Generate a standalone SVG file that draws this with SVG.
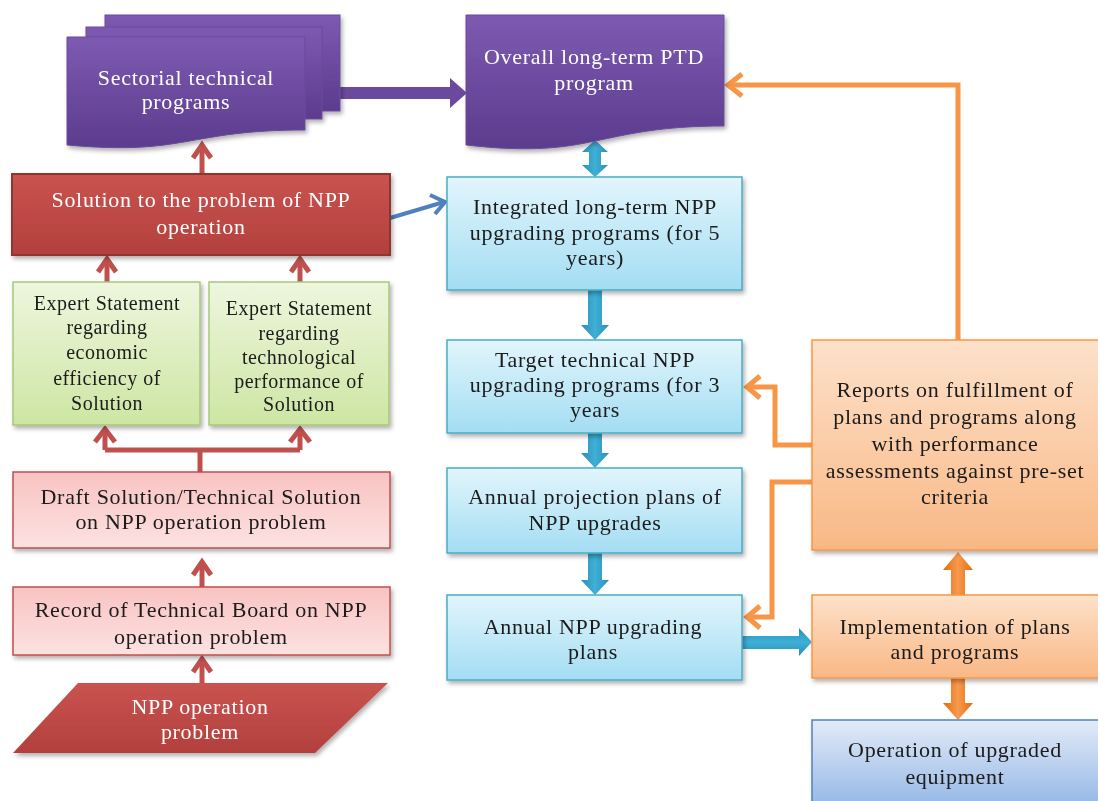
<svg xmlns="http://www.w3.org/2000/svg" width="1098" height="801" viewBox="0 0 1098 801">
<defs>
<linearGradient id="gPurple" x1="0" y1="0" x2="0" y2="1"><stop offset="0" stop-color="#7D5AB1"/><stop offset="1" stop-color="#5C3C8D"/></linearGradient>
<linearGradient id="gRed" x1="0" y1="0" x2="0" y2="1"><stop offset="0" stop-color="#C9534F"/><stop offset="1" stop-color="#B2403D"/></linearGradient>
<linearGradient id="gGreen" x1="0" y1="0" x2="0" y2="1"><stop offset="0" stop-color="#EEF6DE"/><stop offset="1" stop-color="#CDE6A3"/></linearGradient>
<linearGradient id="gPink" x1="0" y1="0" x2="0" y2="1"><stop offset="0" stop-color="#F8C3C2"/><stop offset="1" stop-color="#FCE2E1"/></linearGradient>
<linearGradient id="gCyan" x1="0" y1="0" x2="0" y2="1"><stop offset="0" stop-color="#E2F5FC"/><stop offset="1" stop-color="#A3DDF3"/></linearGradient>
<linearGradient id="gOrange" x1="0" y1="0" x2="0" y2="1"><stop offset="0" stop-color="#FDE1CA"/><stop offset="1" stop-color="#F9B885"/></linearGradient>
<linearGradient id="gBlue" x1="0" y1="0" x2="0" y2="1"><stop offset="0" stop-color="#E3EBF8"/><stop offset="1" stop-color="#92B5E5"/></linearGradient>
<linearGradient id="gTeal" x1="0" y1="0" x2="1" y2="0"><stop offset="0" stop-color="#2A8FB8"/><stop offset="0.5" stop-color="#3FB0D6"/><stop offset="1" stop-color="#2A8FB8"/></linearGradient>
<linearGradient id="gTealH" x1="0" y1="0" x2="0" y2="1"><stop offset="0" stop-color="#2A8FB8"/><stop offset="0.5" stop-color="#3FB0D6"/><stop offset="1" stop-color="#2A8FB8"/></linearGradient>
<linearGradient id="gOrArrow" x1="0" y1="0" x2="1" y2="0"><stop offset="0" stop-color="#E36C09"/><stop offset="0.5" stop-color="#F89A50"/><stop offset="1" stop-color="#E36C09"/></linearGradient>
<filter id="sh" x="-10%" y="-10%" width="125%" height="130%"><feDropShadow dx="2" dy="3" stdDeviation="2" flood-color="#000" flood-opacity="0.3"/></filter>
</defs>
<style>
.t{font-family:"Liberation Serif","Times New Roman",serif;font-size:22px;text-anchor:middle;letter-spacing:0.7px}
.s{font-size:20px;letter-spacing:0.5px}
.w{fill:#ffffff}
.d{fill:#1a1a1a}
.redl{fill:none;stroke:#C0504D;stroke-width:5;stroke-linejoin:miter}
.orl{fill:none;stroke:#F79646;stroke-width:5;stroke-linejoin:miter}
.bll{fill:none;stroke:#4F81BD;stroke-width:4}
</style>
<rect width="1098" height="801" fill="#ffffff"/>

<g id="connectors">
<polygon points="340,87 450,87 450,78 467,93 450,108 450,99 340,99" fill="#6B4A9E"/>
<path class="redl" d="M202 174 V146"/><polyline class="redl" points="193,158 202,145 211,158"/>
<path class="redl" d="M107 282 V260"/><polyline class="redl" points="98,272 107,259 116,272"/>
<path class="redl" d="M300 282 V260"/><polyline class="redl" points="291,272 300,259 309,272"/>
<path class="redl" d="M200 472 V450 M105 450 H300 M105 450 V430 M300 450 V430"/>
<polyline class="redl" points="95,442 105,429 115,442"/><polyline class="redl" points="290,442 300,429 310,442"/>
<path class="redl" d="M202 587 V563"/><polyline class="redl" points="193,575 202,562 211,575"/>
<path class="redl" d="M202 683 V660"/><polyline class="redl" points="193,672 202,659 211,672"/>
<path class="bll" d="M390 218 L444 202"/><polyline class="bll" points="430,195 445,202 435,214"/>
<polygon points="595,140 608,152 601,152 601,165 608,165 595,177 582,165 589,165 589,152 582,152" fill="url(#gTeal)"/>
<polygon points="588,290 602,290 602,325 609,325 595,340 581,325 588,325" fill="url(#gTeal)"/>
<polygon points="588,433 602,433 602,453 609,453 595,468 581,453 588,453" fill="url(#gTeal)"/>
<polygon points="588,553 602,553 602,580 609,580 595,595 581,580 588,580" fill="url(#gTeal)"/>
<polygon points="742,636 799,636 799,628 812,642 799,656 799,649 742,649" fill="url(#gTealH)"/>
<polygon points="951,595 965,595 965,570 973,570 958,552 943,570 951,570" fill="url(#gOrArrow)"/>
<polygon points="951,678 965,678 965,703 973,703 958,720 943,703 951,703" fill="url(#gOrArrow)"/>
<path class="orl" d="M958 340 V85 H730"/><polyline class="orl" points="742,74 728,85 742,96"/>
<path class="orl" d="M812 445 H775 V387 H750"/><polyline class="orl" points="760,376 747,387 760,398"/>
<path class="orl" d="M812 482 H772 V617 H750"/><polyline class="orl" points="760,606 747,617 760,628"/>
</g>

<g id="sectorial" filter="url(#sh)">
<rect x="105" y="15" width="235" height="96" fill="url(#gPurple)" stroke="#6A4A9C" stroke-width="1"/>
<rect x="86" y="27" width="236" height="92" fill="url(#gPurple)" stroke="#6A4A9C" stroke-width="1"/>
<path d="M67 37 H305 V130 C186 130 186 156 67 145 Z" fill="url(#gPurple)" stroke="#6A4A9C" stroke-width="1"/>
<text class="t w" x="186" y="85">Sectorial technical</text>
<text class="t w" x="186" y="109">programs</text>
</g>

<g id="overall" filter="url(#sh)">
<path d="M466 15 H724 V126 C595 126 595 160 466 145 Z" fill="url(#gPurple)" stroke="#6A4A9C" stroke-width="1"/>
<text class="t w" x="594" y="64">Overall long-term PTD</text>
<text class="t w" x="594" y="90">program</text>
</g>

<g id="solution" filter="url(#sh)">
<rect x="12" y="174" width="378" height="81" fill="url(#gRed)" stroke="#8E3533" stroke-width="2"/>
<text class="t w" x="201" y="207">Solution to the problem of NPP</text>
<text class="t w" x="201" y="234">operation</text>
</g>

<g id="expert-economic" filter="url(#sh)">
<rect x="13" y="282" width="187" height="143" fill="url(#gGreen)" stroke="#A8C77A" stroke-width="1.5"/>
<text class="t s d" x="107" y="310">Expert Statement</text>
<text class="t s d" x="107" y="334">regarding</text>
<text class="t s d" x="107" y="359">economic</text>
<text class="t s d" x="107" y="385">efficiency  of</text>
<text class="t s d" x="107" y="410">Solution</text>
</g>

<g id="expert-technological" filter="url(#sh)">
<rect x="209" y="282" width="180" height="143" fill="url(#gGreen)" stroke="#A8C77A" stroke-width="1.5"/>
<text class="t s d" x="299" y="315">Expert Statement</text>
<text class="t s d" x="299" y="340">regarding</text>
<text class="t s d" x="299" y="364">technological</text>
<text class="t s d" x="299" y="388">performance of</text>
<text class="t s d" x="299" y="411">Solution</text>
</g>

<g id="draft" filter="url(#sh)">
<rect x="13" y="472" width="377" height="76" fill="url(#gPink)" stroke="#C0504D" stroke-width="1.5"/>
<text class="t d" x="201" y="504">Draft Solution/Technical Solution</text>
<text class="t d" x="201" y="529">on NPP operation problem</text>
</g>

<g id="record" filter="url(#sh)">
<rect x="13" y="587" width="377" height="68" fill="url(#gPink)" stroke="#C0504D" stroke-width="1.5"/>
<text class="t d" x="201" y="617">Record of Technical Board on NPP</text>
<text class="t d" x="201" y="644">operation problem</text>
</g>

<g id="problem" filter="url(#sh)">
<polygon points="78,683 388,683 315,753 13,753" fill="url(#gRed)"/>
<text class="t w" x="200" y="714">NPP operation</text>
<text class="t w" x="200" y="739">problem</text>
</g>

<g id="integrated" filter="url(#sh)">
<rect x="447" y="177" width="295" height="113" fill="url(#gCyan)" stroke="#4BACC6" stroke-width="1.5"/>
<text class="t d" x="595" y="214">Integrated long-term NPP</text>
<text class="t d" x="595" y="240">upgrading programs (for 5</text>
<text class="t d" x="595" y="265">years)</text>
</g>

<g id="target" filter="url(#sh)">
<rect x="447" y="340" width="295" height="93" fill="url(#gCyan)" stroke="#4BACC6" stroke-width="1.5"/>
<text class="t d" x="595" y="367">Target technical  NPP</text>
<text class="t d" x="595" y="392">upgrading programs (for 3</text>
<text class="t d" x="595" y="417">years</text>
</g>

<g id="annual-projection" filter="url(#sh)">
<rect x="447" y="468" width="295" height="85" fill="url(#gCyan)" stroke="#4BACC6" stroke-width="1.5"/>
<text class="t d" x="595" y="504">Annual projection plans of</text>
<text class="t d" x="595" y="530">NPP upgrades</text>
</g>

<g id="annual-plans" filter="url(#sh)">
<rect x="447" y="595" width="295" height="85" fill="url(#gCyan)" stroke="#4BACC6" stroke-width="1.5"/>
<text class="t d" x="593" y="634">Annual NPP upgrading</text>
<text class="t d" x="593" y="659">plans</text>
</g>

<g id="reports" filter="url(#sh)">
<rect x="812" y="340" width="290" height="210" fill="url(#gOrange)" stroke="#F79646" stroke-width="1.5"/>
<text class="t d" x="955" y="397">Reports on fulfillment of</text>
<text class="t d" x="955" y="424">plans and programs along</text>
<text class="t d" x="955" y="451">with performance</text>
<text class="t d" x="955" y="478">assessments against pre-set</text>
<text class="t d" x="955" y="504">criteria</text>
</g>

<g id="implementation" filter="url(#sh)">
<rect x="812" y="595" width="290" height="83" fill="url(#gOrange)" stroke="#F79646" stroke-width="1.5"/>
<text class="t d" x="955" y="634">Implementation of plans</text>
<text class="t d" x="955" y="659">and programs</text>
</g>

<g id="operation" filter="url(#sh)">
<rect x="812" y="720" width="290" height="90" fill="url(#gBlue)" stroke="#4F81BD" stroke-width="1.5"/>
<text class="t d" x="955" y="757">Operation of upgraded</text>
<text class="t d" x="955" y="784">equipment</text>
</g>
</svg>
